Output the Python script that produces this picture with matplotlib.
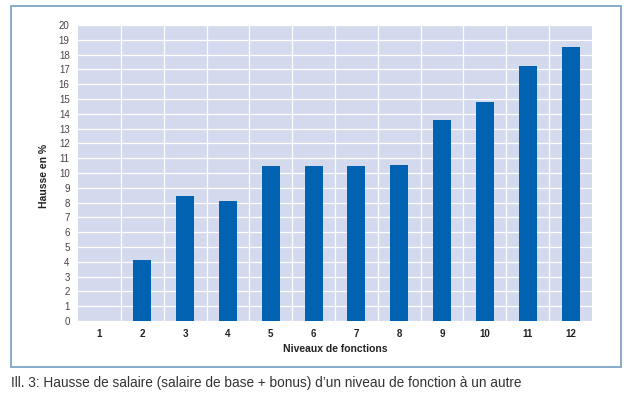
import matplotlib
matplotlib.use("Agg")
import matplotlib.pyplot as plt
from matplotlib import font_manager
from matplotlib.patches import Rectangle

categories = [1, 2, 3, 4, 5, 6, 7, 8, 9, 10, 11, 12]
values = [0, 4.1, 8.45, 8.1, 10.5, 10.5, 10.45, 10.55, 13.6, 14.8, 17.2, 18.5]
yticks = list(range(0, 21))
ylabel = "Hausse en %"
xlabel = "Niveaux de fonctions"
caption = "Ill. 3: Hausse de salaire (salaire de base + bonus) d’un niveau de fonction à un autre"

names = {f.name for f in font_manager.fontManager.ttflist}
narrow = "Liberation Sans Narrow" if "Liberation Sans Narrow" in names else "Liberation Sans"

fig = plt.figure(figsize=(6.4, 3.93), dpi=100)
fig.patch.set_facecolor("white")
ax = fig.add_axes([78/640, 1-321/393, (592-78)/640, (321-25)/393])
ax.set_facecolor("#d3daee")

ax.bar(categories, values, width=0.42, color="#0062b0", zorder=3)
ax.set_xlim(0.5, 12.5)
ax.set_ylim(0, 20)
ax.set_yticks(yticks)
ax.set_yticklabels([str(t) for t in yticks], fontsize=7, color="#444444", family=narrow)
ax.set_xticks(categories)
ax.set_xticklabels([str(c) for c in categories], fontsize=7, color="#222222",
                   fontweight="bold", family=narrow)
ax.set_xticks([c + 0.5 for c in categories[:-1]], minor=True)
ax.tick_params(axis="both", which="both", length=0)
ax.tick_params(axis="y", pad=6)
ax.tick_params(axis="x", pad=6)
ax.grid(axis="y", which="major", color="white", linewidth=0.9, zorder=1)
ax.grid(axis="x", which="minor", color="white", linewidth=0.9, zorder=1)
ax.grid(axis="x", which="major", visible=False)
ax.set_axisbelow(True)
for s in ax.spines.values():
    s.set_visible(False)

ax.set_ylabel(ylabel, fontsize=7.5, fontweight="bold", color="#222222", family=narrow)
ax.yaxis.set_label_coords(-0.056, 0.49)
ax.set_xlabel(xlabel, fontsize=7.5, fontweight="bold", color="#222222", family=narrow, labelpad=3)

frame = Rectangle((11/640, 1-367/393), (621-11)/640, (367-6)/393, transform=fig.transFigure,
                  fill=False, edgecolor="#7ea5c8", linewidth=1.3)
fig.patches.append(frame)

fig.text(11/640, 1-383/393, caption, fontsize=9.8, color="#333333", family=narrow,
         va="center", ha="left")

fig.savefig("out.png", dpi=100)
